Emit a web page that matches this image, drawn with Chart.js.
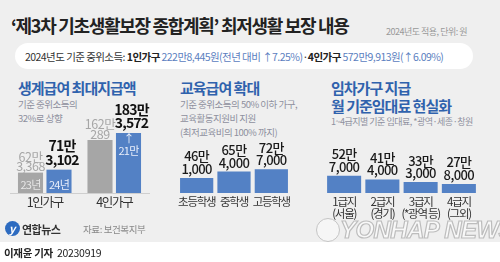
<!DOCTYPE html>
<html><head><meta charset="utf-8">
<script src="https://cdn.jsdelivr.net/npm/chart.js@4.4.1/dist/chart.umd.min.js"></script>
<style>
body{margin:0;background:#fff;}
#wrap{position:relative;width:500px;height:262px;background:#fff;overflow:hidden;font-family:"Noto Sans CJK KR","Noto Sans",sans-serif;}
#panel{position:absolute;left:0;top:0;width:500px;height:242px;background:#efefef;}
.t{position:absolute;white-space:nowrap;}
canvas{position:absolute;}
#pill{position:absolute;left:15px;top:43px;width:458px;height:26px;background:#fff;border-radius:13px;}
.h{color:#2f62ad;font-weight:700;font-size:15px;letter-spacing:-1px;}
.s{color:#8e8f9e;font-size:9.5px;letter-spacing:-0.5px;}
</style></head>
<body><div id="wrap">
<div id="panel"></div>
<div class="t" style="left:11px;top:13px;line-height:24px;font-size:18px;font-weight:700;color:#222;letter-spacing:-1.3px;">‘제3차 기초생활보장 종합계획’ 최저생활 보장 내용</div>
<div class="t" style="left:386px;top:25px;line-height:14px;font-size:9px;color:#999;letter-spacing:-0.5px;">2024년도 적용, 단위: 원</div>
<div id="pill"></div>
<div class="t" style="left:25px;top:49px;line-height:16px;font-size:10.5px;color:#333;letter-spacing:-0.55px;">2024년도 기준 중위소득: <b style="color:#222">1인가구</b> <span style="color:#5b80c0">222만8,445원(전년 대비 ↑7.25%)</span>·<b style="color:#222">4인가구</b> <span style="color:#5b80c0">572만9,913원(↑6.09%)</span></div>

<div class="t h" style="left:18px;top:79px;line-height:18px;">생계급여 최대지급액</div>
<div class="t s" style="left:18px;top:97px;line-height:14px;">기준 중위소득의</div>
<div class="t s" style="left:18px;top:111px;line-height:14px;">32%로 상향</div>

<div class="t h" style="left:180px;top:79px;line-height:18px;">교육급여 확대</div>
<div class="t s" style="left:180px;top:97px;line-height:14px;">기준 중위소득의 50% 이하 가구,</div>
<div class="t s" style="left:180px;top:111px;line-height:14px;">교육활동지원비 지원</div>
<div class="t s" style="left:180px;top:125px;line-height:14px;">(최저교육비의 100% 까지)</div>

<div class="t h" style="left:331px;top:79px;line-height:18px;">임차가구 지급</div>
<div class="t h" style="left:331px;top:97px;line-height:18px;">월 기준임대료 현실화</div>
<div class="t s" style="left:331px;top:115px;line-height:14px;font-size:9px;">1~4급지별 기준 임대료, *광역·세종·창원</div>

<canvas id="c1" width="165" height="125" style="left:0;top:95px;width:165px;height:125px;"></canvas>
<canvas id="c2" width="130" height="125" style="left:170px;top:95px;width:130px;height:125px;"></canvas>
<canvas id="c3" width="180" height="125" style="left:315px;top:95px;width:180px;height:125px;"></canvas>

<div class="t" style="left:5px;top:221px;width:15px;height:15px;border-radius:50%;background:#2d6bc0;"></div>
<div class="t" style="left:9px;top:220px;line-height:16px;font-size:11px;font-style:italic;font-weight:700;color:#fff;">y</div>
<div class="t" style="left:22px;top:221px;line-height:16px;font-size:11px;font-weight:700;color:#333;letter-spacing:-0.5px;">연합뉴스</div>
<div class="t" style="left:83px;top:222px;line-height:15px;font-size:9.5px;color:#888;letter-spacing:-0.4px;">자료: 보건복지부</div>

<div class="t" style="left:316px;top:218px;width:22px;height:22px;border-radius:50%;border:1.5px solid #c4c4c4;background:#f6f6f6;"></div>
<div class="t" style="left:340px;top:215px;line-height:30px;font-size:24px;font-weight:900;font-style:italic;color:#f8f8f8;-webkit-text-stroke:1.2px #bdbdbd;letter-spacing:-0.6px;font-family:'Liberation Sans',Arial,sans-serif;">YONHAP NEWS</div>

<div class="t" style="left:4px;top:245px;line-height:15px;font-size:10.5px;color:#222;letter-spacing:-0.3px;"><b>이재윤 기자</b>&nbsp; 20230919</div>
</div>
<script>
// ---- data ----
const livingCats = ['1인가구', '4인가구'];
const livingSeries = ['23년', '24년'];
const living2023 = [623368, 1620289];
const living2024 = [713102, 1833572];
const livingRise = ['', '21만'];

const eduCats = ['초등학생', '중학생', '고등학생'];
const eduValues = [461000, 654000, 727000];

const rentCats = [['1급지', '(서울)'], ['2급지', '(경기)'], ['3급지', '(*광역 등)'], ['4급지', '(그외)']];
const rentValues = [527000, 414000, 333000, 278000];

const yMax = Math.max(...living2023, ...living2024, ...eduValues, ...rentValues);

const FONT = '"Noto Sans CJK KR", "Noto Sans", sans-serif';
const BLUE = '#5381c5';
const GRAY = '#a6a6a6';

function split(v) {
  return [Math.floor(v / 10000) + '만', (v % 10000).toLocaleString('en-US')];
}

const spacing = {
  id: 'spacing',
  beforeDraw(chart, args, opts) { chart.ctx.letterSpacing = opts.value || '0px'; }
};

const valueLabels = {
  id: 'valueLabels',
  afterDatasetsDraw(chart, args, opts) {
    const ctx = chart.ctx;
    ctx.save();
    ctx.textAlign = 'center';
    ctx.textBaseline = 'middle';
    chart.data.datasets.forEach((ds, di) => {
      const st = opts.styles[di];
      const meta = chart.getDatasetMeta(di);
      meta.data.forEach((bar, i) => {
        const lines = split(ds.data[i]);
        ctx.fillStyle = st.color;
        ctx.font = st.font;
        ctx.letterSpacing = st.ls;
        const y2 = bar.y - st.offset;
        ctx.fillText(lines[0], bar.x + st.dx, y2 - st.lh);
        ctx.fillText(lines[1], bar.x + st.dx, y2);
        ctx.letterSpacing = '-0.8px';
        if (st.inner && i === 0) {
          ctx.fillStyle = st.innerColor;
          ctx.font = '11px ' + FONT;
          ctx.fillText(st.inner, bar.x, bar.base - 8);
        }
        if (st.rise && st.rise[i]) {
          ctx.fillStyle = '#e8eefa';
          ctx.font = '11px ' + FONT;
          ctx.fillText('↑', bar.x, bar.y + 6);
          ctx.fillText(st.rise[i], bar.x, bar.y + 18);
        }
      });
    });
    ctx.restore();
  }
};

function makeOpts(pad, labelStyles, tickSize, border) {
  return {
    responsive: false,
    animation: false,
    devicePixelRatio: 1,
    layout: { padding: pad },
    plugins: {
      legend: { display: false }, tooltip: { enabled: false },
      valueLabels: { styles: labelStyles },
      spacing: { value: '-1.3px' }
    },
    scales: {
      y: { display: false, min: 0, max: yMax },
      x: {
        afterFit: (s) => { s.height = 27; },
        grid: { display: false, drawTicks: false },
        border: { display: !!border, color: '#cfcfcf', width: 1 },
        ticks: { color: '#333', padding: 3, font: { family: FONT, size: tickSize, lineHeight: 1.05 }, maxRotation: 0, autoSkip: false }
      }
    }
  };
}

new Chart(document.getElementById('c1'), {
  type: 'bar',
  plugins: [spacing, valueLabels],
  data: {
    labels: livingCats,
    datasets: [
      { label: livingSeries[0], data: living2023, backgroundColor: GRAY, categoryPercentage: 0.82, barPercentage: 0.88 },
      { label: livingSeries[1], data: living2024, backgroundColor: BLUE, categoryPercentage: 0.82, barPercentage: 0.88 }
    ]
  },
  options: makeOpts({ left: 10, right: 16, top: 38, bottom: 0 }, [
    { color: '#a6a6a6', font: '12.5px ' + FONT, ls: '-0.5px', lh: 9.5, offset: 6, dx: 0, inner: livingSeries[0], innerColor: '#e6e6e6' },
    { color: '#111', font: 'bold 14px ' + FONT, ls: '-0.8px', lh: 13.5, offset: 10, dx: 3, inner: livingSeries[1], innerColor: '#e8eefa', rise: livingRise }
  ], 12.5, true)
});

new Chart(document.getElementById('c2'), {
  type: 'bar',
  plugins: [spacing, valueLabels],
  data: {
    labels: eduCats,
    datasets: [{ data: eduValues, backgroundColor: BLUE, categoryPercentage: 1, barPercentage: 0.89 }]
  },
  options: makeOpts({ left: 8, right: 10, top: 38, bottom: 0 }, [
    { color: '#1a1a1a', font: '500 13px ' + FONT, ls: '-0.6px', lh: 12.5, offset: 9, dx: 0 }
  ], 11.5)
});

new Chart(document.getElementById('c3'), {
  type: 'bar',
  plugins: [spacing, valueLabels],
  data: {
    labels: rentCats,
    datasets: [{ data: rentValues, backgroundColor: BLUE, categoryPercentage: 1, barPercentage: 0.89 }]
  },
  options: makeOpts({ left: 10, right: 17, top: 38, bottom: 0 }, [
    { color: '#1a1a1a', font: '500 13px ' + FONT, ls: '-0.6px', lh: 12.5, offset: 9, dx: 0 }
  ], 11.5)
});
</script>
</body></html>
